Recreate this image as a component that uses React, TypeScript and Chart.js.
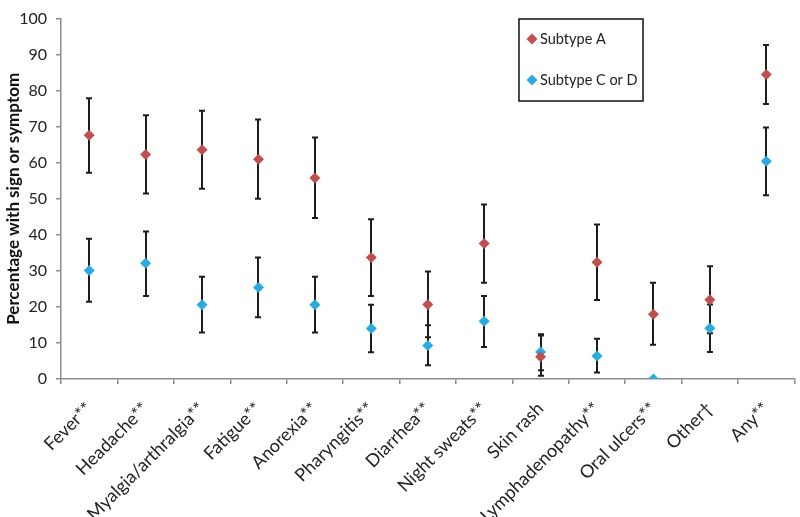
import React, { useEffect, useRef } from "react";
import { Chart, registerables } from "chart.js";

Chart.register(...registerables);

const categories = [
  "Fever**",
  "Headache**",
  "Myalgia/arthralgia**",
  "Fatigue**",
  "Anorexia**",
  "Pharyngitis**",
  "Diarrhea**",
  "Night sweats**",
  "Skin rash",
  "Lymphadenopathy**",
  "Oral ulcers**",
  "Other†",
  "Any**",
];

const subtypeA = [67.6, 62.3, 63.6, 61.0, 55.8, 33.7, 20.7, 37.6, 6.2, 32.4, 18.0, 22.0, 84.5];
const subtypeALow = [57.2, 51.5, 52.8, 50.0, 44.7, 23.0, 11.6, 26.7, 0.9, 21.9, 9.5, 12.7, 76.3];
const subtypeAHigh = [77.9, 73.2, 74.4, 72.0, 67.0, 44.3, 29.8, 48.4, 12.1, 42.9, 26.7, 31.3, 92.7];

const subtypeCD = [30.1, 32.1, 20.6, 25.4, 20.6, 14.0, 9.3, 16.0, 7.5, 6.4, 0, 14.1, 60.4];
const subtypeCDLow: (number | null)[] = [21.4, 23.0, 12.9, 17.1, 12.9, 7.4, 3.8, 8.9, 2.4, 1.8, null, 7.5, 51.0];
const subtypeCDHigh: (number | null)[] = [38.9, 40.9, 28.4, 33.7, 28.4, 20.6, 14.9, 23.0, 12.4, 11.2, null, 20.7, 69.8];

const seriesNames = ["Subtype A", "Subtype C or D"];
const seriesColors = ["#C0504D", "#29ABE2"];

const yMin = 0;
const yMax = 100;
const yStep = 10;

const FONT = "Lato, 'Open Sans', sans-serif";

function drawDiamond(ctx: CanvasRenderingContext2D, x: number, y: number, r: number, color: string) {
  ctx.beginPath();
  ctx.moveTo(x, y - r);
  ctx.lineTo(x + r, y);
  ctx.lineTo(x, y + r);
  ctx.lineTo(x - r, y);
  ctx.closePath();
  ctx.fillStyle = color;
  ctx.fill();
}

const errorBarPlugin = {
  id: "errorBars",
  beforeDatasetsDraw(chart: any) {
    const ctx = chart.ctx as CanvasRenderingContext2D;
    const xs = chart.scales.x;
    const ys = chart.scales.y;
    ctx.save();
    ctx.strokeStyle = "#1c1c1c";
    ctx.lineWidth = 2;
    const pairs: [(number | null)[], (number | null)[]][] = [
      [subtypeALow, subtypeAHigh],
      [subtypeCDLow, subtypeCDHigh],
    ];
    pairs.forEach(([lo, hi]) => {
      categories.forEach((_, i) => {
        const l = lo[i];
        const h = hi[i];
        if (l == null || h == null) return;
        const px = Math.round(xs.getPixelForValue(i));
        const p1 = ys.getPixelForValue(l);
        const p2 = ys.getPixelForValue(h);
        const cap = 3;
        ctx.beginPath();
        ctx.moveTo(px, p1);
        ctx.lineTo(px, p2);
        ctx.moveTo(px - cap, p1);
        ctx.lineTo(px + cap, p1);
        ctx.moveTo(px - cap, p2);
        ctx.lineTo(px + cap, p2);
        ctx.stroke();
      });
    });
    ctx.restore();
  },
};

const legendPlugin = {
  id: "boxLegend",
  afterDraw(chart: any) {
    const ctx = chart.ctx as CanvasRenderingContext2D;
    const bx = 519;
    const by = 19;
    const bw = 124;
    const bh = 82;
    ctx.save();
    ctx.fillStyle = "#ffffff";
    ctx.fillRect(bx, by, bw, bh);
    ctx.strokeStyle = "#111";
    ctx.lineWidth = 1.5;
    ctx.strokeRect(bx, by, bw, bh);
    ctx.font = `14.5px ${FONT}`;
    ctx.textBaseline = "middle";
    ctx.textAlign = "left";
    seriesNames.forEach((name, i) => {
      const cy = by + 20 + i * 41;
      drawDiamond(ctx, bx + 13, cy, 5.5, seriesColors[i]);
      ctx.fillStyle = "#222";
      ctx.fillText(name, bx + 21, cy);
    });
    ctx.restore();
  },
};

export default function App() {
  const canvasRef = useRef<HTMLCanvasElement | null>(null);

  useEffect(() => {
    document.body.style.margin = "0";
    const canvas = canvasRef.current;
    if (!canvas) return;
    const chart = new Chart(canvas, {
      type: "line",
      data: {
        labels: categories,
        datasets: [
          {
            label: seriesNames[0],
            data: subtypeA,
            showLine: false,
            pointStyle: "rectRot",
            pointRadius: 5.5,
            pointHoverRadius: 5.5,
            pointBackgroundColor: seriesColors[0],
            pointBorderColor: seriesColors[0],
            pointBorderWidth: 0,
            borderColor: seriesColors[0],
            backgroundColor: seriesColors[0],
          },
          {
            label: seriesNames[1],
            data: subtypeCD,
            showLine: false,
            pointStyle: "rectRot",
            pointRadius: 5.5,
            pointHoverRadius: 5.5,
            pointBackgroundColor: seriesColors[1],
            pointBorderColor: seriesColors[1],
            pointBorderWidth: 0,
            borderColor: seriesColors[1],
            backgroundColor: seriesColors[1],
          },
        ],
      },
      options: {
        animation: false,
        responsive: true,
        maintainAspectRatio: false,
        layout: { padding: { top: 6, right: 2, left: 0, bottom: 0 } },
        plugins: {
          legend: { display: false },
          tooltip: { enabled: false },
        },
        elements: { point: { hitRadius: 0 } },
        scales: {
          x: {
            type: "category",
            offset: true,
            grid: {
              display: true,
              drawOnChartArea: false,
              offset: true,
              tickLength: 5,
              color: "#8c8c8c",
              lineWidth: 1.5,
            },
            border: { display: true, color: "#8c8c8c", width: 1.5 },
            ticks: {
              autoSkip: false,
              minRotation: 45,
              maxRotation: 45,
              padding: 14,
              color: "#222",
              font: { family: FONT, size: 18 },
            },
            afterFit: (s: any) => {
              s.height = 138;
            },
          },
          y: {
            min: yMin,
            max: yMax,
            grid: {
              display: true,
              drawOnChartArea: false,
              tickLength: 5,
              color: "#8c8c8c",
              lineWidth: 1.5,
            },
            border: { display: true, color: "#8c8c8c", width: 1.5 },
            ticks: {
              stepSize: yStep,
              padding: 9,
              color: "#222",
              font: { family: FONT, size: 16 },
            },
            title: {
              display: true,
              text: "Percentage with sign or symptom",
              color: "#111",
              font: { family: FONT, size: 17, weight: "bold" },
              padding: { top: 3, bottom: 4 },
            },
            afterFit: (s: any) => {
              s.width = 61;
            },
          },
        },
      },
      plugins: [errorBarPlugin, legendPlugin],
    });
    return () => chart.destroy();
  }, []);

  return (
    <div style={{ position: "relative", width: 800, height: 517, background: "#fff" }}>
      <canvas ref={canvasRef} />
    </div>
  );
}
